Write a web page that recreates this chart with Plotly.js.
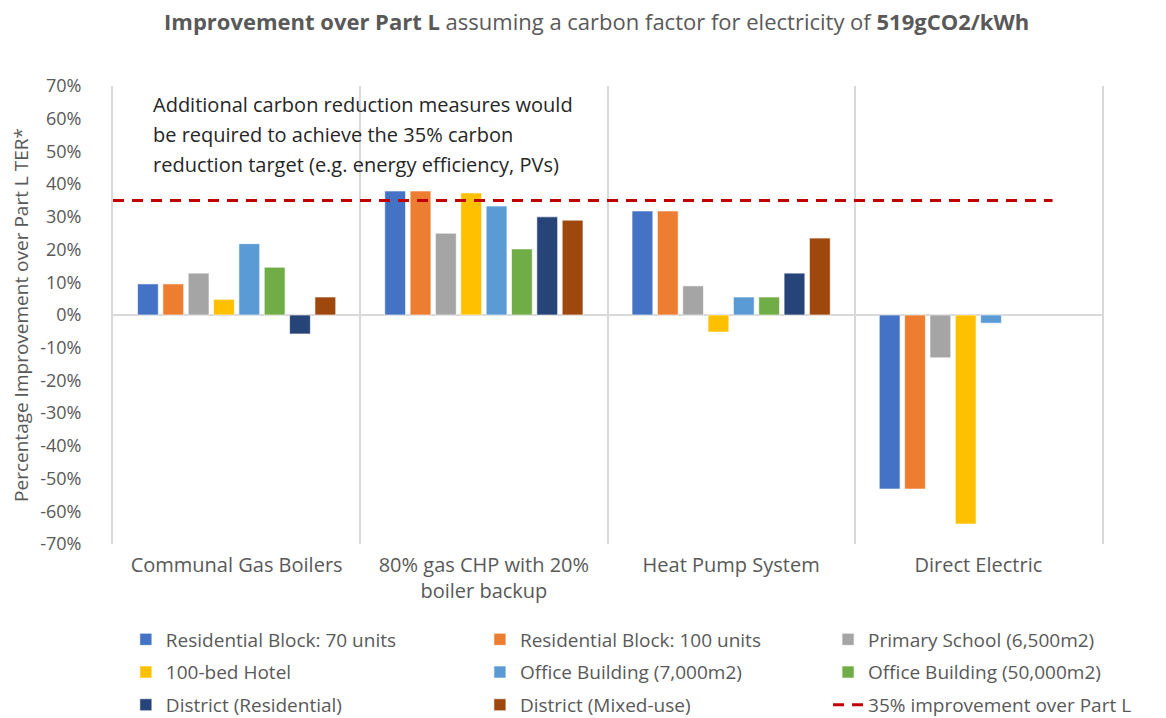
<!DOCTYPE html>
<html>
<head>
<meta charset="utf-8">
<script src="https://cdn.plot.ly/plotly-3.0.1.min.js"></script>
<style>
  html, body { margin: 0; padding: 0; background: #fff; }
  #chart { width: 1166px; height: 718px; }
</style>
</head>
<body>
<div id="chart"></div>
<script>
// Improvement over Part L per heating system, grouped by building type.

const categories = [
    'Communal Gas Boilers',
    '80% gas CHP with 20%<br>boiler backup',
    'Heat Pump System',
    'Direct Electric',
];

const seriesNames = [
    'Residential Block: 70 units',
    'Residential Block: 100 units',
    'Primary School (6,500m2)',
    '100-bed Hotel',
    'Office Building (7,000m2)',
    'Office Building (50,000m2)',
    'District (Residential)',
    'District (Mixed-use)',
];

const seriesColors = ['#4472C4', '#ED7D31', '#A5A5A5', '#FFC000',
                      '#5B9BD5', '#70AD47', '#264478', '#9E480E'];

// values in %, one per category
const res70      = [9.5, 37.9, 31.8, -53.2];
const res100     = [9.5, 37.9, 31.8, -53.2];
const school     = [12.8, 25.0, 8.9, -13.1];
const hotel      = [4.8, 37.3, -5.2, -63.9];
const office7k   = [21.8, 33.3, 5.5, -2.5];
const office50k  = [14.6, 20.2, 5.5, null];
const districtR  = [-5.8, 30.0, 12.8, null];
const districtMx = [5.5, 29.0, 23.5, null];

const seriesValues = [res70, res100, school, hotel, office7k, office50k, districtR, districtMx];

// 35% target line, drawn on a hidden overlay axis
const targetName = '35% improvement over Part L';
const targetX = [0, 0.95];
const targetY = [35, 35];

const yTicks = [-70, -60, -50, -40, -30, -20, -10, 0, 10, 20, 30, 40, 50, 60, 70];

const noteLines = [
    'Additional carbon reduction measures would',
    'be required to achieve the 35% carbon',
    'reduction target (e.g. energy efficiency, PVs)',
];

const GREY = '#595959';
const FONT = '"Open Sans", Lato, sans-serif';
const LEGENDS = ['legend', 'legend2', 'legend3'];   // one legend per column

const traces = seriesNames.map((name, i) => ({
    type: 'bar',
    name: name,
    x: categories,
    y: seriesValues[i],
    legend: LEGENDS[i % 3],
    legendgroup: 'g' + i,
    marker: { color: seriesColors[i], line: { color: 'rgba(255,255,255,0.6)', width: 1 } },
    hoverinfo: 'skip',
}));

traces.push({
    type: 'scatter',
    mode: 'lines',
    name: targetName,
    x: targetX,
    y: targetY,
    xaxis: 'x2',
    legend: 'legend3',
    legendgroup: 'g8',
    line: { color: '#C00000', width: 3, dash: '11px,8px' },
    hoverinfo: 'skip',
});

const annotations = noteLines.map((txt, i) => ({
    xref: 'paper', yref: 'paper',
    x: 0.038, y: 1 - (18 + i * 30) / 458,
    xanchor: 'left', yanchor: 'middle',
    text: txt, showarrow: false,
    font: { family: FONT, size: 20, color: '#262626' },
}));

function legendAt(x) {
    return {
        orientation: 'v',
        xref: 'paper', yref: 'paper',
        x: x, xanchor: 'left',
        y: -0.167, yanchor: 'top',
        tracegroupgap: 5,
        bgcolor: 'rgba(0,0,0,0)',
        font: { family: FONT, size: 19, color: GREY },
    };
}

const layout = {
    width: 1166, height: 718,
    paper_bgcolor: '#fff', plot_bgcolor: '#fff',
    font: { family: FONT, color: GREY, size: 18 },
    margin: { l: 113, r: 64, t: 86, b: 174, autoexpand: false },
    title: {
        text: '<b>Improvement over Part L</b> assuming a carbon factor for electricity of <b>519gCO2/kWh</b>',
        font: { family: FONT, size: 22, color: GREY },
        xref: 'paper', x: 0.489, xanchor: 'center',
        y: 1 - 22 / 718, yanchor: 'middle',
    },
    barmode: 'group',
    bargap: 0.18,
    bargroupgap: 0.18,
    xaxis: {
        type: 'category',
        tickson: 'boundaries',
        showgrid: true, gridcolor: '#D9D9D9', gridwidth: 2,
        ticks: '', showline: false,
        ticklabelstandoff: 7,
        tickfont: { family: FONT, size: 20, color: GREY },
        range: [-0.5, 3.5],
    },
    xaxis2: {
        overlaying: 'x', range: [0, 1], visible: false, fixedrange: true,
    },
    yaxis: {
        range: [-70, 70],
        tickvals: yTicks,
        ticktext: yTicks.map(v => v + '%'),
        showgrid: false,
        zeroline: true, zerolinecolor: '#D9D9D9', zerolinewidth: 2,
        showline: true, mirror: true, linecolor: '#D9D9D9', linewidth: 2,
        ticks: '', ticklabelstandoff: 26,
        tickfont: { family: FONT, size: 18, color: GREY },
        title: { text: 'Percentage Improvement over Part L TER*', standoff: 6,
                 font: { family: FONT, size: 19, color: GREY } },
    },
    legend: legendAt(0.013),
    legend2: legendAt(0.371),
    legend3: legendAt(0.723),
    annotations: annotations,
    showlegend: true,
};

Plotly.newPlot('chart', traces, layout, { displayModeBar: false, staticPlot: true });
</script>
</body>
</html>
